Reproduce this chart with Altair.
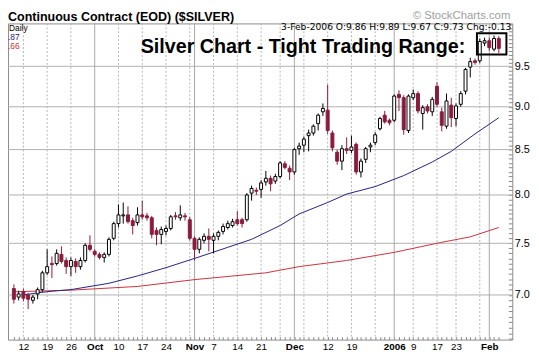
import altair as alt
import pandas as pd

# ---- data (index = trading day, 0 = 8-Sep-2005, 102 = 3-Feb-2006)
day = list(range(103))
opens = [7.06, 6.98, 7.03, 7.00, 6.95, 7.01, 7.05, 7.21, 7.30, 7.30,
         7.39, 7.33, 7.27, 7.32, 7.27, 7.33, 7.48, 7.42, 7.39, 7.36,
         7.39, 7.55, 7.70, 7.78, 7.79, 7.73, 7.71, 7.79, 7.78, 7.76,
         7.63, 7.59, 7.62, 7.65, 7.78, 7.76, 7.78, 7.74, 7.55, 7.44,
         7.53, 7.57, 7.53, 7.57, 7.62, 7.66, 7.68, 7.74, 7.74, 7.74,
         8.02, 8.05, 8.06, 8.14, 8.18, 8.15, 8.20, 8.34, 8.29, 8.25,
         8.51, 8.55, 8.66, 8.69, 8.80, 8.94, 8.96, 8.69, 8.47, 8.37,
         8.51, 8.49, 8.56, 8.25, 8.39, 8.53, 8.58, 8.74, 8.90, 8.84,
         8.84, 9.15, 9.11, 8.72, 9.11, 9.16, 8.92, 9.00, 8.94, 9.25,
         8.94, 8.77, 9.02, 8.86, 9.03, 9.19, 9.49, 9.57, 9.57, 9.80,
         9.83, 9.72, 9.86]
highs = [7.10, 7.04, 7.06, 7.02, 7.00, 7.07, 7.23, 7.44, 7.37, 7.44,
         7.47, 7.36, 7.36, 7.35, 7.36, 7.50, 7.58, 7.44, 7.41, 7.41,
         7.56, 7.72, 7.90, 7.92, 7.88, 7.76, 7.87, 7.94, 7.81, 7.78,
         7.66, 7.67, 7.68, 7.79, 7.82, 7.89, 7.81, 7.77, 7.57, 7.56,
         7.60, 7.65, 7.60, 7.63, 7.70, 7.73, 7.75, 7.83, 7.76, 8.02,
         8.10, 8.08, 8.16, 8.26, 8.21, 8.23, 8.37, 8.37, 8.32, 8.52,
         8.58, 8.65, 8.73, 8.79, 8.92, 9.04, 9.27, 8.72, 8.50, 8.55,
         8.64, 8.66, 8.58, 8.40, 8.53, 8.58, 8.70, 8.88, 8.95, 8.86,
         9.15, 9.20, 9.14, 9.15, 9.21, 9.19, 9.02, 9.03, 9.12, 9.30,
         8.99, 9.16, 9.11, 9.04, 9.19, 9.48, 9.61, 9.60, 9.86, 9.87,
         9.87, 9.90, 9.89]
lows = [6.92, 6.95, 6.94, 6.87, 6.92, 6.96, 7.03, 7.19, 7.16, 7.28,
        7.30, 7.20, 7.18, 7.21, 7.24, 7.31, 7.42, 7.37, 7.34, 7.31,
        7.37, 7.53, 7.66, 7.70, 7.70, 7.59, 7.68, 7.74, 7.73, 7.55,
        7.48, 7.49, 7.58, 7.63, 7.74, 7.73, 7.73, 7.53, 7.33, 7.40,
        7.50, 7.42, 7.40, 7.53, 7.59, 7.64, 7.66, 7.68, 7.66, 7.72,
        7.94, 8.00, 7.97, 8.10, 8.04, 8.12, 8.18, 8.28, 8.16, 8.22,
        8.44, 8.47, 8.48, 8.66, 8.72, 8.89, 8.68, 8.48, 8.33, 8.27,
        8.45, 8.46, 8.22, 8.19, 8.35, 8.47, 8.55, 8.72, 8.80, 8.78,
        8.82, 8.95, 8.67, 8.69, 9.08, 8.92, 8.73, 8.92, 8.89, 9.00,
        8.71, 8.74, 8.76, 8.77, 9.00, 9.15, 9.36, 9.52, 9.54, 9.76,
        9.70, 9.69, 9.67]
closes = [6.96, 7.01, 6.97, 6.96, 6.98, 7.05, 7.21, 7.27, 7.29, 7.40,
          7.32, 7.27, 7.33, 7.27, 7.33, 7.48, 7.44, 7.39, 7.36, 7.39,
          7.54, 7.70, 7.79, 7.79, 7.72, 7.68, 7.79, 7.77, 7.76, 7.59,
          7.59, 7.64, 7.65, 7.77, 7.77, 7.79, 7.77, 7.55, 7.44, 7.54,
          7.57, 7.54, 7.57, 7.61, 7.67, 7.70, 7.72, 7.70, 7.70, 8.00,
          8.07, 8.04, 8.13, 8.18, 8.12, 8.20, 8.35, 8.30, 8.25, 8.50,
          8.54, 8.62, 8.69, 8.77, 8.90, 8.98, 8.72, 8.52, 8.37, 8.51,
          8.49, 8.53, 8.25, 8.37, 8.51, 8.55, 8.67, 8.86, 8.82, 8.81,
          9.13, 9.11, 8.73, 9.13, 9.16, 8.95, 8.99, 8.95, 9.09, 9.03,
          8.78, 9.07, 8.87, 9.01, 9.16, 9.46, 9.56, 9.55, 9.82, 9.83,
          9.74, 9.86, 9.73]

ma50_day = [2, 5, 8, 12, 20, 26, 32, 38, 45, 50, 56, 60, 66, 70, 76, 82, 88, 92, 97, 102]
ma50_val = [7.00, 7.02, 7.035, 7.05, 7.11, 7.18, 7.26, 7.35, 7.46, 7.54,
            7.68, 7.80, 7.92, 8.01, 8.09, 8.21, 8.36, 8.48, 8.68, 8.87]
ma200_day = [0, 12, 26, 38, 53, 60, 70, 80, 90, 96, 102]
ma200_val = [7.03, 7.045, 7.08, 7.145, 7.21, 7.27, 7.33, 7.41, 7.51, 7.565, 7.66]

xlabel_day = [2, 7, 12, 17, 22, 27, 32, 38, 42, 47, 52, 59, 66, 71, 80, 84, 89, 93, 100]
xlabel_txt = ["12", "19", "26", "Oct", "10", "17", "24", "Nov", "7", "14", "21",
              "Dec", "12", "19", "2006", "9", "17", "23", "Feb"]
month_day = [17, 38, 59, 80, 100]
week_day = [2, 7, 12, 22, 27, 32, 37, 42, 47, 52, 56, 61, 66, 71, 76, 84, 89, 93, 98]
price_grid = [7.0, 7.5, 8.0, 8.5, 9.0, 9.5]
price_ticks = [round(6.6 + 0.05 * k, 2) for k in range(70)]

box_day = [97.4]
box_day2 = [103.6]
box_lo = [9.65]
box_hi = [9.93]
note_day = [60.8]
note_price = [9.674]
note_text = ["Silver Chart - Tight Trading Range:"]

title_text = "Continuous Contract (EOD) ($SILVER)"
header_text = "3-Feb-2006  O:9.86  H:9.89  L:9.67  C:9.73  Chg:-0.13"
watermark_text = "\u00a9 StockCharts.com"

# ---- frames
candles = pd.DataFrame({"d": day, "o": opens, "h": highs, "l": lows, "c": closes})
ma50 = pd.DataFrame({"d": ma50_day, "v": ma50_val})
ma200 = pd.DataFrame({"d": ma200_day, "v": ma200_val})
hgrid = pd.DataFrame({"p": price_grid})
mgrid = pd.DataFrame({"d": month_day})
wgrid = pd.DataFrame({"d": week_day})
box = pd.DataFrame({"d": box_day, "d2": box_day2, "lo": box_lo, "hi": box_hi})
note = pd.DataFrame({"d": note_day, "p": note_price, "t": note_text})

RED = "#8b1a3d"
FONT = "Liberation Sans"

xs = alt.Scale(domain=[-0.2, 103.8], nice=False, zero=False)
ys = alt.Scale(type="log", domain=[6.595, 10.06], nice=False, zero=False)

label_expr = "".join(f"datum.value == {d} ? '{t}' : " for d, t in zip(xlabel_day, xlabel_txt)) + "''"
bold_test = "indexof([" + ",".join(str(m) for m in month_day) + "], datum.value) >= 0"

xaxis = alt.Axis(values=day, labelExpr=label_expr, tickSize=3, offset=-3, domain=False,
                 grid=False, tickColor="#888", labelFont=FONT, labelFontSize=10,
                 labelColor="#000", labelPadding=2, labelOverlap=False, labelFlush=False,
                 labelFontWeight={"condition": {"test": bold_test, "value": "bold"}, "value": "normal"},
                 title=None)
yaxis = alt.Axis(orient="right", values=price_ticks,
                 labelExpr="datum.value > 6.99 && datum.value < 9.51 && abs(datum.value*2 - round(datum.value*2)) < 0.01 ? format(datum.value, '.1f') : ''",
                 tickSize=4, offset=-4, domain=False, grid=False, tickColor="#888",
                 labelFont=FONT, labelFontSize=11, labelColor="#000", labelPadding=2,
                 labelOverlap=False, labelFlush=False, title=None)

X = lambda f: alt.X(f, type="quantitative", scale=xs, axis=xaxis)
Y = lambda f: alt.Y(f, type="quantitative", scale=ys, axis=yaxis)

hg = alt.Chart(hgrid).mark_rule(color="#b0b0b0", strokeWidth=1).encode(y=Y("p"))
mg = alt.Chart(mgrid).mark_rule(color="#a8a8a8", strokeWidth=1).encode(x=X("d"))
wg = alt.Chart(wgrid).mark_rule(color="#b4b4b4", strokeWidth=1, strokeDash=[2, 2]).encode(x=X("d"))

l200 = alt.Chart(ma200).mark_line(color="#c8323c", strokeWidth=1).encode(x=X("d"), y=Y("v"))
l50 = alt.Chart(ma50).mark_line(color="#23237f", strokeWidth=1).encode(x=X("d"), y=Y("v"))

down = "datum.c < datum.o"
wick = alt.Chart(candles).mark_rule(strokeWidth=1).encode(
    x=X("d"), y=Y("l"), y2="h",
    color=alt.condition(down, alt.value(RED), alt.value("#000")))
body = alt.Chart(candles).mark_bar(size=3, strokeWidth=1).encode(
    x=X("d"), y=Y("o"), y2="c",
    fill=alt.condition(down, alt.value(RED), alt.value("#ffffff")),
    stroke=alt.condition(down, alt.value(RED), alt.value("#000")))

boxl = alt.Chart(box).mark_rect(fill=None, fillOpacity=0, stroke="#000", strokeWidth=2).encode(
    x=X("d"), x2="d2", y=Y("lo"), y2="hi")
notel = alt.Chart(note).mark_text(font=FONT, fontSize=20, fontWeight="bold", align="center",
                                  baseline="alphabetic", color="#000").encode(
    x=X("d"), y=Y("p"), text="t:N")

def label(txt, x, y, **kw):
    return alt.Chart(pd.DataFrame({"t": [txt]})).mark_text(**kw).encode(
        text="t:N", x=alt.value(x), y=alt.value(y))

title = label(title_text, 0, -2, font=FONT, fontSize=12.7, fontWeight="bold", align="left",
              baseline="alphabetic", color="#000")
water = label(watermark_text, 510, -4, font=FONT, fontSize=11.5, align="right",
              baseline="alphabetic", color="#a0a0a0")
header = label(header_text, 511, 7, font="DejaVu Sans", fontSize=9.3, align="right",
               baseline="alphabetic", color="#000")
daily = label("Daily", 1, 8, font=FONT, fontSize=8.5, align="left", baseline="alphabetic", color="#000")
leg50 = label(".87", 0, 17, font=FONT, fontSize=8.5, align="left", baseline="alphabetic", color="#23237f")
leg200 = label(".66", 0, 26, font=FONT, fontSize=8.5, align="left", baseline="alphabetic", color="#c8323c")

chart = alt.layer(hg, wg, mg, l200, l50, wick, body, boxl, notel,
                  title, water, header, daily, leg50, leg200).properties(
    width=512, height=321,
    autosize=alt.AutoSizeParams(type="none"),
    padding={"left": 0, "top": 13, "right": 19, "bottom": 14},
    background="#ffffff",
).configure_view(stroke="#8c8c8c", strokeWidth=1, fill="#ffffff")

chart.save("out.html", embed_options={"renderer": "svg", "actions": False})
